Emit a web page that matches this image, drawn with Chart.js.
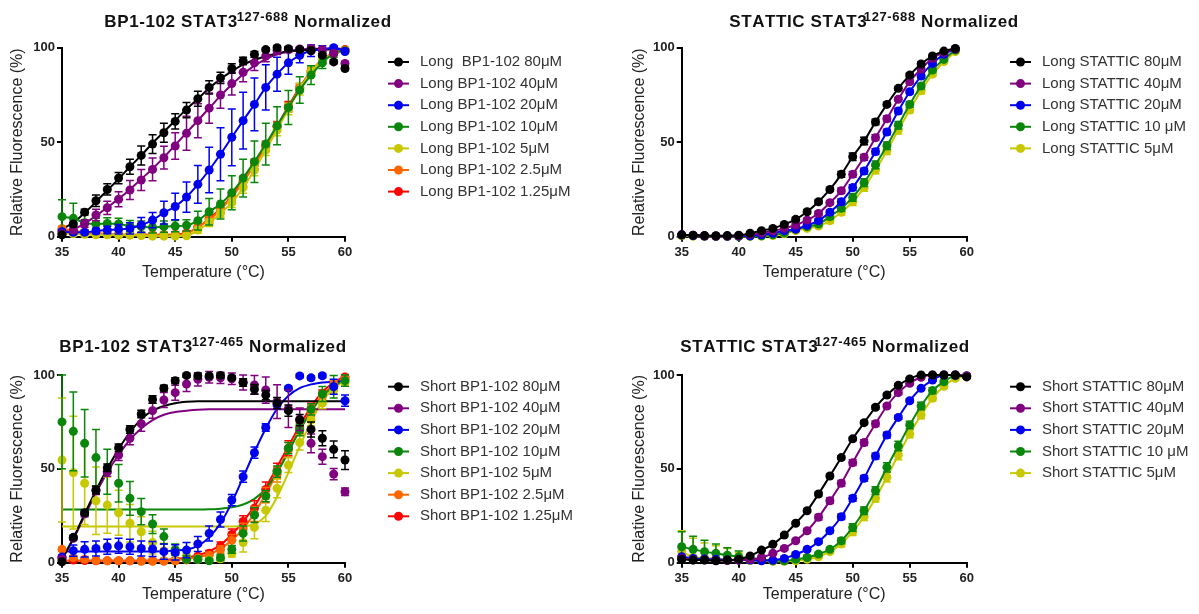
<!DOCTYPE html>
<html>
<head>
<meta charset="UTF-8">
<title>Thermal shift STAT3</title>
<script src="https://cdn.jsdelivr.net/npm/chart.js"></script>
<style>
    body { margin: 0; background: #fff; }
    #wrap { position: relative; width: 1199px; height: 614px; }
    canvas { position: absolute; }
</style>
</head>
<body>
<div id="wrap">
    <canvas id="c1" width="600" height="300" style="left:0;top:0"></canvas>
    <canvas id="c2" width="599" height="300" style="left:600px;top:0"></canvas>
    <canvas id="c3" width="600" height="314" style="left:0;top:300px"></canvas>
    <canvas id="c4" width="599" height="314" style="left:600px;top:300px"></canvas>
</div>
<script>
// temperatures (°C)
const temps = [35, 36, 37, 38, 39, 40, 41, 42, 43, 44, 45, 46, 47, 48, 49, 50, 51, 52, 53, 54, 55, 56, 57, 58, 59, 60];

const colors = ['#000000', '#800080', '#0000f0', '#0a870a', '#c8c800', '#ff6600', '#ff0000'];

// --- Long BP1-102 (STAT3 127-688)
const longBP80 = [1, 6.7, 13, 19, 25, 31, 37, 43, 49, 55, 61, 67, 73, 79, 84, 89, 93, 96.5, 99, 100, 99.5, 99, 98.5, 96, 92.5, 89];
const longBP80Err = [0.5, 1, 1.5, 3, 3, 3, 4, 5, 5, 5, 4, 4, 4, 3.5, 3, 2.5, 2, 1.5, 1, 1, 1, 1, 1, 1, 1, 1];
const longBP80Fit = [4, 7.5, 12.5, 18.5, 24.5, 30.5, 37, 43, 49.5, 55.5, 61.5, 67.5, 73, 78.5, 83.5, 87.5, 91, 93.5, 95.5, 97, 98, 98.5, 99, 99, 99, 99];
const longBP40 = [1.5, 3.5, 7, 11.5, 15.3, 19.8, 24.7, 30, 35.6, 41.8, 48, 54.7, 61.4, 68, 75, 81, 87, 92, 95.6, 98.4, 99, 99.3, 99.6, 99, 97, 91.7];
const longBP40Err = [1, 1.5, 2, 3, 3.5, 4, 5, 5.5, 6, 6, 7, 9, 9, 8, 7, 6, 5, 4, 3, 2, 1.5, 1, 1, 1, 1, 1];
const longBP40Fit = [2, 3.8, 7, 11, 15.5, 20, 25, 30.5, 36, 42, 48.5, 55, 61.5, 68, 74.5, 80.5, 86, 90.5, 94, 96.5, 98, 99, 99.5, 99.5, 99.5, 99.5];
const longBP20 = [2.6, 2.3, 2.3, 3, 3.5, 3.9, 4.4, 6.2, 8.8, 12.7, 16, 21, 27.7, 35.3, 43.6, 52.6, 61.4, 70, 79, 86, 92, 96, 98.4, 99, 100, 98];
const longBP20Err = [1, 1, 1, 1.5, 2, 2.5, 3, 4, 4, 6, 7, 8, 10, 12, 14, 15, 15, 14, 12, 9, 6, 4, 3, 2, 1, 1];
const longBP10 = [10.6, 9.7, 7.4, 6.7, 7, 6.7, 5.6, 5.3, 5, 5.3, 5.6, 6, 8.5, 13.2, 17.3, 23.3, 31, 39.7, 49, 58.7, 68.4, 77.6, 85.5, 92, 97, 98.4];
const longBP10Err = [9, 8, 5, 3, 3, 3, 3, 3, 3, 3, 3, 3, 5, 7, 8, 9, 10, 11, 11, 10, 9, 7, 5, 3, 2, 1];
const longBP5 = [1.8, 1.5, 1.2, 1, 1, 0.8, 0.8, 0.6, 0.3, 0.3, 0.3, 0.5, 3.5, 7.4, 12.3, 18, 26, 35.3, 45.9, 56.4, 67.5, 78, 87.3, 93.5, 97, 98];
const longBP5Err = [1, 1, 1, 1, 1, 1, 1, 1, 1, 1, 1, 1, 1.5, 2, 2, 2.5, 3, 3, 3, 3, 3, 3, 2.5, 2, 1.5, 1];
const longBP2_5 = [4.4, 3, 2.5, 2, 1.5, 1, 1, 0.8, 0.8, 0.8, 1, 1.5, 5.3, 8.8, 14.5, 21, 29, 38, 47.6, 58, 68.4, 78.5, 87, 93.5, 97, 98.8];
const longBP2_5Err = [1, 1, 1, 1, 1, 1, 1, 1, 1, 1, 1, 1, 1.5, 2, 2, 2, 2.5, 2.5, 2.5, 2.5, 2.5, 2, 2, 1.5, 1, 1];
const longBP1_25 = [3.5, 2.5, 2, 1.5, 1.2, 1, 1, 1, 1, 1, 1.2, 2, 5, 9.5, 15, 21.5, 29.5, 38.5, 48, 58.5, 69, 79, 87.5, 93.8, 97.2, 99];
const longBP1_25Err = [1, 1, 1, 1, 1, 1, 1, 1, 1, 1, 1, 1, 1.5, 2, 2, 2, 2.5, 2.5, 2.5, 2.5, 2.5, 2, 2, 1.5, 1, 1];

// --- Long STATTIC (STAT3 127-688)
const longST80 = [1, 0.8, 0.6, 0.5, 0.6, 0.8, 1.8, 3.2, 4.4, 6.5, 9.2, 13.2, 18.5, 25, 33, 42.3, 50.6, 60.7, 70, 78.5, 85.5, 91.4, 95.6, 98.2, 99.6, null];
const longST80Err = [0.3, 0.3, 0.3, 0.3, 0.3, 0.3, 0.5, 0.5, 0.8, 0.8, 1, 1, 1, 1, 1.5, 2, 2, 1.5, 1, 1, 1, 1, 0.8, 0.5, 0.5, null];
const longST40 = [1, 0.8, 0.5, 0.4, 0.4, 0.5, 1.2, 2, 3, 4.4, 6.2, 8.8, 12.3, 18, 24.3, 33, 42, 52.4, 62.4, 72.7, 82, 88.7, 94.4, 97.5, 99.3, null];
const longST40Err = [0.3, 0.3, 0.3, 0.3, 0.3, 0.3, 0.5, 0.5, 0.8, 0.8, 1, 1, 1, 1, 1.5, 1.5, 1.5, 1.5, 1.5, 1, 1, 1, 0.8, 0.5, 0.5, null];
const longST20 = [1, 0.6, 0.4, 0.3, 0.3, 0.3, 0.5, 1, 1.8, 3.2, 4, 6, 8.5, 13, 18.5, 26, 34.7, 45, 55.4, 66.5, 76.7, 85, 91.7, 96.5, 99.3, null];
const longST20Err = [0.3, 0.3, 0.3, 0.3, 0.3, 0.3, 0.5, 0.5, 0.8, 0.8, 1, 1, 1, 1, 1.5, 1.5, 1.5, 1.5, 1.5, 1.5, 1, 1, 0.8, 0.5, 0.5, null];
const longST10 = [0.8, 0.5, 0.3, 0.2, 0.2, 0.2, 0.3, 0.5, 1, 2, 3.9, 5.3, 6.7, 10.6, 15, 20.8, 28.6, 38, 48.1, 59, 70, 79.7, 88.2, 93.8, 98.8, null];
const longST10Err = [0.3, 0.3, 0.3, 0.3, 0.3, 0.3, 0.5, 0.5, 0.8, 0.8, 1, 1, 1, 1.5, 1.5, 2, 2, 2, 2, 2, 1.5, 1.5, 1, 0.8, 0.5, null];
const longST5 = [0.5, 0.3, 0.2, 0.1, 0.1, 0.1, 0.2, 0.3, 0.6, 1.5, 3.2, 4.4, 5.6, 8.5, 12.9, 18.5, 26, 35.3, 45.5, 56.4, 67, 77.2, 86, 92.6, 97.9, null];
const longST5Err = [0.3, 0.3, 0.3, 0.3, 0.3, 0.3, 0.5, 0.5, 0.8, 0.8, 1, 1, 1, 1.5, 1.5, 2, 2, 2, 2, 2, 1.5, 1.5, 1, 0.8, 0.5, null];

// --- Short BP1-102 (STAT3 127-465)
const shortBP80 = [0.5, 13.5, 26.6, 38.7, 50.6, 61.3, 71, 79.2, 87, 93, 97, 99.8, 99.5, 99.5, 99.8, 98.6, 96, 92.4, 89.3, 85, 81, 76, 71, 66.3, 60.4, 54.7];
const shortBP80Err = [0.5, 1, 1.5, 2, 2, 2, 2, 2, 2, 1.5, 1.5, 1, 1, 1, 1, 1, 2, 2.5, 2.5, 3, 3, 3, 4, 4, 4.5, 5];
const shortBP80Fit = [2, 13, 26, 38.5, 50, 60.5, 69.5, 76.5, 81, 83.5, 85, 85.7, 86, 86, 86, 86, 86, 86, 86, 86, 86, 86, 86, 86, 86, 86];
const shortBP40 = [2, 13, 26, 38.4, 48.5, 57.4, 66.3, 74, 81, 86.7, 90.6, 95.2, 97.7, 98.8, 98.5, 98, 96, 94.7, 92, 85.8, 82, 76.4, 63.6, 56.5, 47.2, 37.8];
const shortBP40Err = [1, 1, 1.5, 2, 2.5, 3, 3.5, 4, 4, 4, 4, 4, 3.5, 3, 3, 3, 4, 5, 7, 9, 10, 6, 5, 4, 3, 2];
const shortBP40Fit = [2, 12.5, 25, 37, 48, 57.5, 65.5, 71.5, 76, 78.8, 80.3, 81, 81.5, 81.7, 81.7, 81.7, 81.7, 81.7, 81.7, 81.7, 81.7, 81.7, 81.7, 81.7, 81.7, 81.7];
const shortBP20 = [3, 6.4, 7.1, 7.6, 8.5, 9, 8.5, 7.6, 7.3, 5.9, 5.5, 6.7, 10, 15.6, 23, 33.4, 45.8, 58.6, 72, 84, 93, 99.5, 98.5, 99.6, 93.8, 86.3];
const shortBP20Err = [1, 3, 4, 4, 4, 4, 4, 4, 4, 4, 4, 4, 4, 4, 4, 3, 3, 3, 2, 2, 1, 1, 1, 1, 4, 3];
const shortBP20Fit = [6, 6, 6, 6, 6, 6, 6, 6, 6, 6.2, 6.5, 7, 9, 13.5, 21, 32, 45.5, 59, 71.5, 82, 89, 93, 95, 96, 96.5, 96.8];
const shortBP10 = [75, 70, 63.6, 56, 48.5, 42.3, 34.3, 27.2, 20.6, 13.9, 7, 1.8, 1.8, 1, 2.7, 7.1, 15.6, 25.4, 35.5, 48.5, 61, 70.7, 81.7, 89.9, 93.8, 97];
const shortBP10Err = [25, 21, 18, 15, 12, 10, 9, 7, 5, 4, 3, 2, 1.5, 1, 1.5, 2, 4, 4, 3, 3, 3, 3, 3, 4, 6, 3];
const shortBP10Fit = [28.4, 28.4, 28.4, 28.4, 28.4, 28.4, 28.4, 28.4, 28.4, 28.4, 28.4, 28.4, 28.4, 28.5, 28.8, 29.5, 31, 34, 39.5, 48, 59, 70.5, 80.5, 88.5, 94, 97.5];
const shortBP5 = [54.7, 48, 42.3, 33, 30.7, 26.6, 21, 16.5, 10.7, 6.4, 5, 3.2, 1.8, 1.4, 2.1, 5, 10.7, 18.8, 28, 39.6, 52, 64, 76, 85, 92, 96];
const shortBP5Err = [33, 30, 22, 18, 15, 12, 10, 8, 6, 4, 3, 2, 1.5, 1, 1.5, 2, 5, 6, 6, 5, 4, 4, 3, 3, 2, 2];
const shortBP5Fit = [19.3, 19.3, 19.3, 19.3, 19.3, 19.3, 19.3, 19.3, 19.3, 19.3, 19.3, 19.3, 19.3, 19.3, 19.3, 19.3, 19.5, 20.5, 25, 35, 48, 62, 75, 86, 93, 97];
const shortBP2_5 = [7.1, 2.7, 1.8, 1.2, 1, 1, 1, 0.8, 0.8, 0.8, 1, 1.5, 2.5, 4, 7, 12, 18, 26, 36, 47, 60, 71, 81, 89, 95, 98];
const shortBP2_5Err = [1, 1, 1, 1, 1, 1, 1, 1, 1, 1, 1, 1, 1, 1.5, 2, 3, 3, 4, 4, 4, 4, 3, 3, 2, 2, 1];
const shortBP2_5Fit = [1, 1, 1, 1, 1, 1, 1, 1, 1, 1.2, 1.5, 2, 3, 4.5, 7.5, 12, 18, 26.5, 36.5, 48, 60, 71, 81, 89, 95, 98.5];
const shortBP1_25 = [2.8, 1.4, 1.2, 1, 1, 1, 1, 1, 1, 1, 1.2, 2, 3.5, 5, 9, 15, 22, 29, 39, 49, 61, 72, 82, 90, 95, 99];
const shortBP1_25Err = [1, 1, 1, 1, 1, 1, 1, 1, 1, 1, 1, 1, 1, 1.5, 2, 3, 3, 4, 4, 4, 4, 3, 3, 2, 2, 1];
const shortBP1_25Fit = [1, 1, 1, 1, 1, 1, 1, 1, 1.2, 1.5, 2, 2.7, 4, 6, 9.5, 15, 22, 30, 40, 51, 62, 73, 83, 91, 96, 99.5];

// --- Short STATTIC (STAT3 127-465)
const shortST80 = [1.8, 1.4, 1.4, 1, 1.4, 1.8, 3.6, 6.7, 9.8, 14.7, 21, 27.7, 36.6, 46.2, 56, 66, 74.6, 82.8, 89.3, 94.5, 97.9, 100, 100, 100, 100, 99];
const shortST80Err = [0.5, 0.5, 0.5, 0.5, 0.5, 0.5, 0.5, 0.5, 0.5, 0.8, 0.8, 0.8, 1, 1, 1, 1, 1, 1, 1, 0.8, 0.5, 0.5, 0.5, 0.5, 0.5, 0.5];
const shortST40 = [2.3, 1.5, 1.5, 1.2, 1.2, 1.4, 1.8, 2.8, 5, 7.6, 11.7, 17, 24.2, 33, 42.3, 53.3, 64, 74, 83.5, 90.6, 95.6, 98.8, 100, 100, 100, 99.5];
const shortST40Err = [0.5, 0.5, 0.5, 0.5, 0.5, 0.5, 0.5, 0.5, 0.5, 0.8, 0.8, 1, 1.5, 1.5, 1.5, 1.5, 1.5, 1.5, 1, 1, 0.8, 0.5, 0.5, 0.5, 0.5, 0.5];
const shortST20 = [3.2, 2.3, 2, 1.8, 1.5, 1.4, 1.4, 1, 1.4, 2.3, 4.4, 7.1, 11.2, 17, 24.5, 34.3, 45, 56.8, 68, 77.4, 86.3, 92.9, 97.3, 100, 100, 99.5];
const shortST20Err = [0.5, 0.5, 0.5, 0.5, 0.5, 0.5, 0.5, 0.5, 0.5, 0.8, 0.8, 1, 1, 1, 1.5, 1.5, 1.5, 1.5, 1.5, 1, 1, 0.8, 0.5, 0.5, 0.5, 0.5];
const shortST10 = [8.5, 7.1, 5.9, 5, 4, 3.2, 2.3, 1.8, 1, 1, 1.8, 2.8, 4.6, 7.1, 11.7, 18.8, 27.7, 38.4, 50.8, 62.2, 73.4, 83.5, 91.7, 96.4, 99.6, 99.5];
const shortST10Err = [8, 7, 6, 5, 4, 3, 2, 1.5, 1, 1, 1, 1, 1, 1, 1.5, 2, 2, 2, 2.5, 2.5, 2, 2, 1.5, 1, 1, 1];
const shortST5 = [6, 3, 2.5, 2, 1.5, 1.5, 1.2, 1, 0.8, 0.8, 1, 1.8, 3.2, 5.9, 10, 16.5, 24.5, 34.3, 45.5, 57.4, 68.6, 78.7, 87.6, 94, 98.2, 99.2];
const shortST5Err = [11, 10, 8, 7, 6, 4, 2, 1, 1, 1, 1, 1, 1, 1, 1.5, 2, 2, 2, 2.5, 2.5, 2, 2, 1.5, 1, 1, 1];

Chart.defaults.font.family = '"Liberation Sans", Arial, sans-serif';

// error bars, drawn just under each dataset's own points
const errorBars = {
    id: 'errorBars',
    beforeDatasetDraw(chart, args) {
        const ds = chart.data.datasets[args.index];
        if (!ds.errors) return;
        const ctx = chart.ctx, x = chart.scales.x, y = chart.scales.y;
        ctx.save();
        ctx.strokeStyle = ds.borderColor;
        ctx.lineWidth = 1.5;
        ds.data.forEach((p, i) => {
            const e = ds.errors[i];
            if (p.y == null || !e) return;
            const px = x.getPixelForValue(p.x);
            const top = y.getPixelForValue(p.y + e);
            const bot = y.getPixelForValue(Math.max(p.y - e, 0));
            ctx.beginPath();
            ctx.moveTo(px, top); ctx.lineTo(px, bot);
            ctx.moveTo(px - 4, top); ctx.lineTo(px + 4, top);
            if (p.y - e > 0) { ctx.moveTo(px - 4, bot); ctx.lineTo(px + 4, bot); }
            ctx.stroke();
        });
        ctx.restore();
    }
};

function makePanel(id, p) {
    const datasets = [];
    const fits = [];
    p.series.forEach((s, k) => {
        datasets.push({
            label: s.label,
            data: temps.map((t, i) => ({x: t, y: s.values[i]})),
            errors: s.errors,
            backgroundColor: colors[k],
            borderColor: colors[k],
            borderWidth: 2,
            pointRadius: 4.5,
            pointBorderWidth: 0,
            showLine: !s.fit,
            cubicInterpolationMode: 'monotone',
            spanGaps: true,
            clip: false
        });
        if (s.fit) {
            fits.push({
                label: s.label + ' fit',
                data: temps.map((t, i) => ({x: t, y: s.fit[i]})),
                borderColor: colors[k],
                borderWidth: 2,
                pointRadius: 0,
                showLine: true,
                cubicInterpolationMode: 'monotone',
                clip: false
            });
        }
    });

    // title with superscript + legend on the right
    const panelText = {
        id: 'panelText',
        afterDraw(chart) {
            const ctx = chart.ctx;
            ctx.save();
            ctx.fillStyle = '#111';
            ctx.textBaseline = 'alphabetic';
            const big = 'bold 17px "Liberation Sans", Arial, sans-serif';
            const small = 'bold 13px "Liberation Sans", Arial, sans-serif';
            const sp = 0.6;
            ctx.font = big;
            const w1 = ctx.measureText(p.title[0]).width + sp * p.title[0].length;
            const w3 = ctx.measureText(p.title[2]).width + sp * p.title[2].length;
            ctx.font = small;
            const w2 = ctx.measureText(p.title[1]).width + sp * p.title[1].length;
            const draw = (txt, x, y) => {
                for (const ch of txt) { ctx.fillText(ch, x, y); x += ctx.measureText(ch).width + sp; }
            };
            let x = p.titleX - (w1 + w2 + w3 + 1.5) / 2;
            ctx.font = big;
            draw(p.title[0], x, p.titleY);
            x += w1 + 1.5;
            ctx.font = small;
            draw(p.title[1], x, p.titleY - 6);
            x += w2;
            ctx.font = big;
            draw(p.title[2], x, p.titleY);

            ctx.font = '15px "Liberation Sans", Arial, sans-serif';
            ctx.textBaseline = 'middle';
            p.series.forEach((s, k) => {
                const y = p.legY + k * 21.6;
                ctx.strokeStyle = colors[k];
                ctx.fillStyle = colors[k];
                ctx.lineWidth = 2;
                ctx.beginPath();
                ctx.moveTo(p.legX, y); ctx.lineTo(p.legX + 21, y);
                ctx.stroke();
                ctx.beginPath();
                ctx.arc(p.legX + 10.5, y, 4.5, 0, Math.PI * 2);
                ctx.fill();
                ctx.fillStyle = '#333';
                ctx.fillText(s.label, p.legX + 32, y);
            });
            ctx.restore();
        }
    };

    new Chart(document.getElementById(id), {
        type: 'scatter',
        data: { datasets: datasets.concat(fits) },
        options: {
            responsive: false,
            animation: false,
            layout: { padding: { left: 0, top: p.top, right: p.right, bottom: 0 } },
            plugins: { legend: { display: false }, tooltip: { enabled: false } },
            scales: {
                x: {
                    type: 'linear', min: 35, max: 60,
                    ticks: { stepSize: 5, color: '#222', font: { size: 13, weight: 'bold' }, padding: 3 },
                    grid: { drawOnChartArea: false, drawTicks: true, tickLength: 5, color: '#000', lineWidth: 2 },
                    border: { color: '#000', width: 2 },
                    title: { display: true, text: 'Temperature (°C)', color: '#222', font: { size: 16 }, padding: { top: 0, bottom: p.xTitlePad } },
                    afterFit(s) { s.height = p.xHeight; }
                },
                y: {
                    min: 0, max: 100,
                    ticks: { stepSize: 50, color: '#222', font: { size: 13, weight: 'bold' }, padding: 2 },
                    grid: { drawOnChartArea: false, drawTicks: true, tickLength: 5, color: '#000', lineWidth: 2 },
                    border: { color: '#000', width: 2 },
                    title: { display: true, text: 'Relative Fluorescence (%)', color: '#222', font: { size: 16 }, padding: { top: p.yTitlePad, bottom: 0 } },
                    afterFit(s) { s.width = p.yWidth; }
                }
            }
        },
        plugins: [errorBars, panelText]
    });
}

makePanel('c1', {
    title: ['BP1-102 STAT3', '127-688', ' Normalized'], titleX: 248, titleY: 27,
    top: 47.7, right: 255, yWidth: 62, xHeight: 63.3, yTitlePad: 8.4, xTitlePad: 17.4,
    legX: 388, legY: 62,
    series: [
        { label: 'Long  BP1-102 80μM', values: longBP80, errors: longBP80Err, fit: longBP80Fit },
        { label: 'Long BP1-102 40μM', values: longBP40, errors: longBP40Err, fit: longBP40Fit },
        { label: 'Long BP1-102 20μM', values: longBP20, errors: longBP20Err },
        { label: 'Long BP1-102 10μM', values: longBP10, errors: longBP10Err },
        { label: 'Long BP1-102 5μM', values: longBP5, errors: longBP5Err },
        { label: 'Long BP1-102 2.5μM', values: longBP2_5, errors: longBP2_5Err },
        { label: 'Long BP1-102 1.25μM', values: longBP1_25, errors: longBP1_25Err }
    ]
});

makePanel('c2', {
    title: ['STATTIC STAT3', '127-688', ' Normalized'], titleX: 274, titleY: 27,
    top: 47.7, right: 232.3, yWidth: 81.7, xHeight: 63.3, yTitlePad: 30.4, xTitlePad: 17.4,
    legX: 410, legY: 62,
    series: [
        { label: 'Long STATTIC 80μM', values: longST80, errors: longST80Err },
        { label: 'Long STATTIC 40μM', values: longST40, errors: longST40Err },
        { label: 'Long STATTIC 20μM', values: longST20, errors: longST20Err },
        { label: 'Long STATTIC 10 μM', values: longST10, errors: longST10Err },
        { label: 'Long STATTIC 5μM', values: longST5, errors: longST5Err }
    ]
});

makePanel('c3', {
    title: ['BP1-102 STAT3', '127-465', ' Normalized'], titleX: 203, titleY: 51.7,
    top: 75, right: 255, yWidth: 62, xHeight: 51.3, yTitlePad: 8.4, xTitlePad: 9.4,
    legX: 388, legY: 86.7,
    series: [
        { label: 'Short BP1-102 80μM', values: shortBP80, errors: shortBP80Err, fit: shortBP80Fit },
        { label: 'Short BP1-102 40μM', values: shortBP40, errors: shortBP40Err, fit: shortBP40Fit },
        { label: 'Short BP1-102 20μM', values: shortBP20, errors: shortBP20Err, fit: shortBP20Fit },
        { label: 'Short BP1-102 10μM', values: shortBP10, errors: shortBP10Err, fit: shortBP10Fit },
        { label: 'Short BP1-102 5μM', values: shortBP5, errors: shortBP5Err, fit: shortBP5Fit },
        { label: 'Short BP1-102 2.5μM', values: shortBP2_5, errors: shortBP2_5Err, fit: shortBP2_5Fit },
        { label: 'Short BP1-102 1.25μM', values: shortBP1_25, errors: shortBP1_25Err, fit: shortBP1_25Fit }
    ]
});

makePanel('c4', {
    title: ['STATTIC STAT3', '127-465', ' Normalized'], titleX: 225, titleY: 51.7,
    top: 75, right: 232.3, yWidth: 81.7, xHeight: 51.3, yTitlePad: 30.4, xTitlePad: 9.4,
    legX: 410, legY: 86.7,
    series: [
        { label: 'Short STATTIC 80μM', values: shortST80, errors: shortST80Err },
        { label: 'Short STATTIC 40μM', values: shortST40, errors: shortST40Err },
        { label: 'Short STATTIC 20μM', values: shortST20, errors: shortST20Err },
        { label: 'Short STATTIC 10 μM', values: shortST10, errors: shortST10Err },
        { label: 'Short STATTIC 5μM', values: shortST5, errors: shortST5Err }
    ]
});
</script>
</body>
</html>
